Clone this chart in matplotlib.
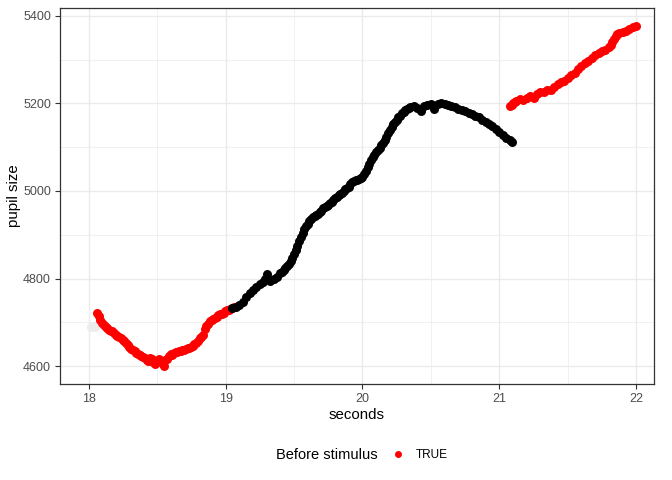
import matplotlib.pyplot as plt
from matplotlib.lines import Line2D

plt.rcParams['font.family'] = ['Liberation Sans', 'DejaVu Sans']

# faint points at the very start (no stimulus info)
grey_t = [18.015, 18.03, 18.045]
grey_v = [4690, 4692, 4690]

# before stimulus, first stretch
pre_t = [18.0600, 18.0725, 18.0850, 18.0975, 18.1100, 18.1225, 18.1350, 18.1475, 18.1600, 18.1725,
         18.1850, 18.1975, 18.2100, 18.2225, 18.2350, 18.2475, 18.2600, 18.2725, 18.2850, 18.2975,
         18.3100, 18.3225, 18.3350, 18.3475, 18.3600, 18.3725, 18.3850, 18.3975, 18.4100, 18.4225,
         18.4350, 18.4475, 18.4600, 18.4725, 18.4850, 18.4975, 18.5100, 18.5225, 18.5350, 18.5475,
         18.5600, 18.5725, 18.5850, 18.5975, 18.6100, 18.6225, 18.6350, 18.6475, 18.6600, 18.6725,
         18.6850, 18.6975, 18.7100, 18.7225, 18.7350, 18.7475, 18.7600, 18.7725, 18.7850, 18.7975,
         18.8100, 18.8225, 18.8350, 18.8475, 18.8600, 18.8725, 18.8850, 18.8975, 18.9100, 18.9225,
         18.9350, 18.9475, 18.9600, 18.9725, 18.9850, 18.9975, 19.0100, 19.0225, 19.0350, 19.0475,
         19.0600]
pre_v = [4722, 4714, 4705, 4698, 4693, 4690, 4688, 4683, 4680, 4679,
         4676, 4671, 4668, 4667, 4664, 4660, 4657, 4652, 4648, 4643,
         4640, 4636, 4634, 4630, 4628, 4626, 4624, 4620, 4619, 4614,
         4612, 4618, 4616, 4610, 4605, 4612, 4617, 4611, 4606, 4601,
         4614, 4617, 4622, 4628, 4626, 4629, 4631, 4633, 4635, 4634,
         4636, 4637, 4638, 4641, 4642, 4644, 4646, 4650, 4653, 4658,
         4664, 4667, 4672, 4684, 4692, 4697, 4702, 4705, 4708, 4710,
         4713, 4716, 4718, 4720, 4722, 4725, 4727, 4729, 4731, 4733,
         4735]

# after stimulus
post_t = [19.050, 19.075, 19.100, 19.125, 19.150, 19.175, 19.200, 19.225, 19.250, 19.275,
          19.2875, 19.300, 19.3125, 19.325, 19.350, 19.375, 19.400, 19.4125, 19.425, 19.4375,
          19.450, 19.4625, 19.475, 19.4875, 19.500, 19.5125, 19.525, 19.5375, 19.550, 19.5625,
          19.575, 19.5875, 19.600, 19.6125, 19.625, 19.6375, 19.650, 19.6625, 19.675, 19.6875,
          19.700, 19.7125, 19.725, 19.7375, 19.750, 19.7625, 19.775, 19.7875, 19.800, 19.8125,
          19.825, 19.8375, 19.850, 19.8625, 19.875, 19.8875, 19.900, 19.9125, 19.925, 19.9375,
          19.950, 19.9625, 19.975, 19.9875, 20.000, 20.0125, 20.025, 20.0375, 20.050, 20.0625,
          20.075, 20.0875, 20.100, 20.1125, 20.125, 20.1375, 20.150, 20.1625, 20.175, 20.1875,
          20.200, 20.2125, 20.225, 20.2375, 20.250, 20.2625, 20.275, 20.2875, 20.300, 20.3125,
          20.325, 20.3375, 20.350, 20.375, 20.400, 20.425, 20.450, 20.475, 20.500, 20.525,
          20.550, 20.575, 20.600, 20.625, 20.650, 20.675, 20.700, 20.725, 20.750, 20.775,
          20.800, 20.825, 20.850, 20.875, 20.900, 20.925, 20.950, 20.975, 21.000, 21.025,
          21.050, 21.075, 21.090]
post_v = [4733, 4736, 4739, 4746, 4757, 4766, 4774, 4780, 4788, 4792,
          4800, 4810, 4798, 4795, 4798, 4803, 4812, 4816, 4820, 4824,
          4828, 4833, 4840, 4847, 4855, 4865, 4875, 4886, 4895, 4904,
          4912, 4919, 4925, 4932, 4937, 4940, 4942, 4945, 4948, 4952,
          4955, 4960, 4963, 4966, 4969, 4972, 4975, 4979, 4983, 4987,
          4990, 4993, 4996, 5001, 5004, 5007, 5010, 5016, 5020, 5022,
          5024, 5025, 5027, 5030, 5033, 5038, 5045, 5054, 5062, 5070,
          5077, 5083, 5088, 5093, 5098, 5104, 5110, 5117, 5124, 5132,
          5139, 5146, 5152, 5158, 5163, 5168, 5172, 5177, 5181, 5184,
          5187, 5190, 5192, 5194, 5190, 5183, 5193, 5197, 5198, 5188,
          5199, 5200, 5198, 5197, 5194, 5192, 5188, 5185, 5182, 5179,
          5176, 5172, 5168, 5163, 5158, 5152, 5148, 5142, 5135, 5129,
          5122, 5116, 5113]

# before next stimulus
pre2_t = [21.080, 21.090, 21.100, 21.1125, 21.125, 21.150, 21.175, 21.200, 21.225, 21.250,
          21.275, 21.300, 21.325, 21.350, 21.375, 21.400, 21.425, 21.450, 21.475, 21.500,
          21.525, 21.550, 21.575, 21.600, 21.625, 21.650, 21.675, 21.700, 21.725, 21.750,
          21.775, 21.800, 21.8125, 21.825, 21.8375, 21.850, 21.8625, 21.875, 21.900, 21.925,
          21.950, 21.975, 22.000]
pre2_v = [5193, 5197, 5200, 5203, 5206, 5210, 5208, 5212, 5216, 5213,
          5222, 5226, 5226, 5231, 5230, 5238, 5244, 5248, 5252, 5258,
          5264, 5270, 5278, 5285, 5292, 5298, 5304, 5310, 5316, 5320,
          5322, 5328, 5333, 5340, 5348, 5355, 5359, 5362, 5364, 5366,
          5370, 5374, 5376]

x_ticks = [18, 19, 20, 21, 22]
y_ticks = [4600, 4800, 5000, 5200, 5400]

fig = plt.figure(figsize=(6.72, 4.8), dpi=100)
ax = fig.add_axes([60 / 672, 1 - 384 / 480, 594 / 672, 376 / 480])

ax.scatter(grey_t, grey_v, s=42, color='#ececec', linewidths=0, zorder=3)
ax.scatter(pre_t, pre_v, s=42, color='red', linewidths=0, zorder=3)
ax.scatter(post_t, post_v, s=42, color='black', linewidths=0, zorder=3)
ax.scatter(pre2_t, pre2_v, s=42, color='red', linewidths=0, zorder=3)

ax.set_xlim(17.79, 22.13)
ax.set_ylim(4559, 5418)
ax.set_xticks(x_ticks)
ax.set_yticks(y_ticks)
ax.set_xticks([18.5, 19.5, 20.5, 21.5], minor=True)
ax.set_yticks([4700, 4900, 5100, 5300], minor=True)
ax.grid(which='major', color='#ebebeb', linewidth=1.0)
ax.grid(which='minor', color='#ebebeb', linewidth=0.5)
ax.set_axisbelow(True)
ax.tick_params(which='major', length=3.5, width=0.8, color='#333333',
               labelcolor='#4d4d4d', labelsize=9, pad=3)
ax.tick_params(which='minor', length=0)
for sp in ax.spines.values():
    sp.set_color('#333333')
    sp.set_linewidth(0.9)

ax.set_xlabel('seconds', fontsize=10.8, labelpad=2)
ax.set_ylabel('pupil size', fontsize=10.8, labelpad=1.5)

# legend at the bottom, title on the left of the key
fig.text(276 / 672, 1 - 455 / 480, 'Before stimulus', fontsize=10.5,
         ha='left', va='center')
handle = Line2D([], [], marker='o', linestyle='none', color='red', markersize=4)
fig.legend([handle], ['TRUE'], loc='center left', bbox_to_anchor=(391 / 672, 1 - 455 / 480),
           frameon=False, fontsize=8.5, handletextpad=0.9, handlelength=1.2,
           borderpad=0, borderaxespad=0)

fig.savefig('out.png', dpi=100)
